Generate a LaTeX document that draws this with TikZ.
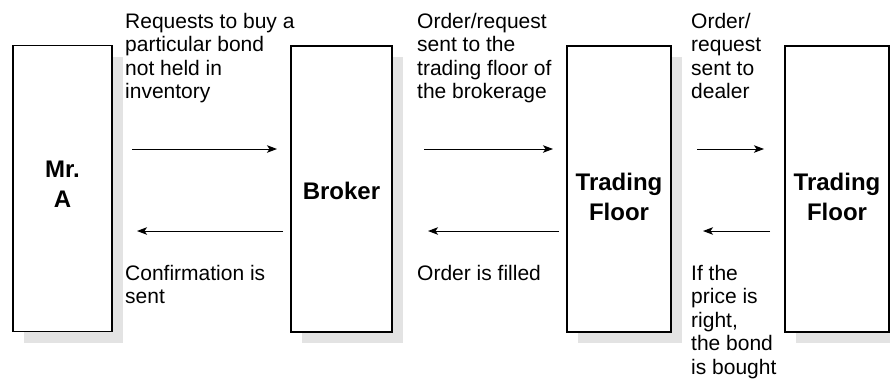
\documentclass[tikz,border=0pt]{standalone}
\usepackage{fontspec}
\setmainfont{Liberation Sans}
\usetikzlibrary{arrows.meta,shadows}
\definecolor{shadowgray}{HTML}{E3E3E3}
\tikzset{
  box/.style={draw=black, line width=1.3pt, fill=white, minimum height=286pt, inner sep=0pt,
    drop shadow={shadow xshift=11pt, shadow yshift=-11pt, fill=shadowgray, opacity=1}},
  boxlbl/.style={inner sep=0pt, align=center, font=\fontsize{24}{30}\selectfont\bfseries},
  lbl/.style={anchor=base west, inner sep=0pt, align=left, font=\fontsize{21}{23.5}\selectfont},
  arr/.style={line width=1pt, -{Stealth[length=10pt,width=7.5pt,inset=2.5pt]}}
}
\begin{document}
\begin{tikzpicture}[x=1pt,y=-1pt]
\useasboundingbox (0,0) rectangle (890,381);
\node[box, minimum width=99pt]  (A) at (62.5,188.5) {};
\node[box, minimum width=101pt] (B) at (341.5,189) {};
\node[box, minimum width=104pt] (C) at (619,189) {};
\node[box, minimum width=104pt] (D) at (837,189) {};
\node[boxlbl] (Al) at ([yshift=4pt]A.center) {Mr.\\A};
\node[boxlbl] (Bl) at ([yshift=-2pt]B.center) {Broker};
\node[boxlbl] (Cl) at ([yshift=-8pt]C.center) {Trading\\Floor};
\node[boxlbl] (Dl) at ([yshift=-8pt]D.center) {Trading\\Floor};

% base anchor = baseline of the last line
\node[lbl] (t1) at (125,98.5) {Requests to buy a\\particular bond\\not held in\\inventory};
\node[lbl] (t2) at (417,98.5) {Order/request\\sent to the\\trading floor of\\the brokerage};
\node[lbl] (t3) at (691,98.5) {Order/\\request\\sent to\\dealer};
\node[lbl] (b1) at (125,303.5) {Confirmation is\\sent};
\node[lbl] (b2) at (417,280) {Order is filled};
\node[lbl] (b3) at (691,374) {If the\\price is\\right,\\the bond\\is bought};

\coordinate (a1s) at (132,149); \coordinate (a1e) at (277,149);
\coordinate (a2s) at (424,149); \coordinate (a2e) at (553,149);
\coordinate (a3s) at (697,149); \coordinate (a3e) at (764,149);
\coordinate (r1s) at (283,231); \coordinate (r1e) at (137,231);
\coordinate (r2s) at (559,231); \coordinate (r2e) at (428,231);
\coordinate (r3s) at (770,231); \coordinate (r3e) at (703,231);
\draw[arr] (a1s) -- (a1e);
\draw[arr] (a2s) -- (a2e);
\draw[arr] (a3s) -- (a3e);
\draw[arr] (r1s) -- (r1e);
\draw[arr] (r2s) -- (r2e);
\draw[arr] (r3s) -- (r3e);
\end{tikzpicture}
\end{document}
